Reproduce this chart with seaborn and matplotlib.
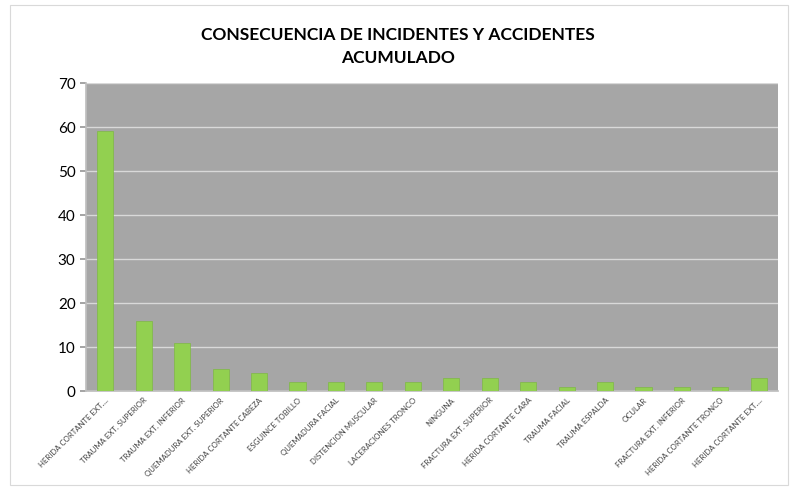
import matplotlib
matplotlib.use("Agg")
import matplotlib.pyplot as plt
import seaborn as sns
import pandas as pd
from matplotlib.patches import Rectangle

categories = [
    "HERIDA CORTANTE EXT....", "TRAUMA EXT. SUPERIOR", "TRAUMA EXT. INFERIOR",
    "QUEMADURA EXT. SUPERIOR", "HERIDA CORTANTE CABEZA", "ESGUINCE TOBILLO",
    "QUEMADURA FACIAL", "DISTENCION MUSCULAR", "LACERACIONES TRONCO",
    "NINGUNA", "FRACTURA EXT. SUPERIOR", "HERIDA CORTANTE CARA",
    "TRAUMA FACIAL", "TRAUMA ESPALDA", "OCULAR", "FRACTURA EXT. INFERIOR",
    "HERIDA CORTANTE TRONCO", "HERIDA CORTANTE EXT....",
]
values = [59, 16, 11, 5, 4, 2, 2, 2, 2, 3, 3, 2, 1, 2, 1, 1, 1, 3]
yticks = [0, 10, 20, 30, 40, 50, 60, 70]
title = "CONSECUENCIA DE INCIDENTES Y ACCIDENTES\nACUMULADO"

sns.set_theme(style="white")
plt.rcParams['font.family'] = ['Lato', 'DejaVu Sans']

df = pd.DataFrame({"pos": list(range(len(categories))), "val": values})

fig = plt.figure(figsize=(7.98, 4.90), dpi=100)
fig.patch.set_facecolor("white")
fig.patches.append(Rectangle((0.012, 0.01), 0.976, 0.98, transform=fig.transFigure,
                             fill=False, edgecolor="#d9d9d9", linewidth=0.8))
ax = fig.add_axes([0.1078, 0.202, 0.8672, 0.6286])
ax.set_facecolor("#a6a6a6")

sns.barplot(data=df, x="pos", y="val", color="#92d050", width=0.42,
            saturation=1, ax=ax, zorder=3, edgecolor="#7fb845", linewidth=0.5)

ax.set_xlim(-0.5, len(categories) - 0.5)
ax.set_ylim(0, 70)
ax.set_yticks(yticks)
ax.set_yticklabels([str(t) for t in yticks], fontsize=11, color="black")
ax.yaxis.grid(True, color="#d9d9d9", linewidth=1.0, zorder=0)
ax.set_axisbelow(True)

ax.set_xticks(range(len(categories)))
ax.set_xticklabels(categories, rotation=45, ha="right", rotation_mode="anchor",
                   fontsize=5.6, color="#404040")
ax.set_xticks([i - 0.5 for i in range(len(categories) + 1)], minor=True)
ax.tick_params(axis="x", which="major", length=0, pad=4)
ax.tick_params(axis="x", which="minor", length=4, color="#999999", direction="out")
ax.tick_params(axis="y", length=4, color="#999999", direction="out", left=True)
ax.set_xlabel("")
ax.set_ylabel("")
for s in ["top", "right"]:
    ax.spines[s].set_visible(False)
ax.spines["left"].set_color("#bfbfbf")
ax.spines["bottom"].set_color("#bfbfbf")

fig.text(0.499, 0.905, title, ha="center", va="center", fontsize=12.5,
         fontweight="bold", color="black", linespacing=1.5)

fig.savefig("out.png", dpi=100)
